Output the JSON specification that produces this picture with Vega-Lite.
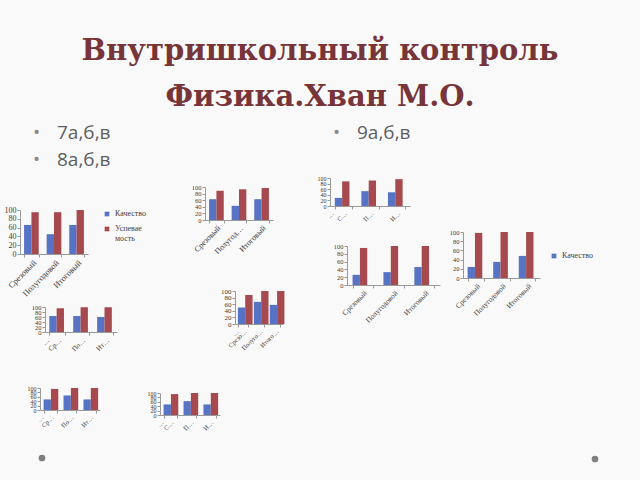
{
"$schema": "https://vega.github.io/schema/vega-lite/v6.json",
"background": "#f9f9f9",
"padding": {"left": 0, "top": 37, "right": 0, "bottom": 0},
"title": {"text": ["Внутришкольный контроль", "Физика.Хван М.О."], "font": "DejaVu Serif", "fontSize": 29, "fontWeight": "bold", "color": "#773539", "lineHeight": 46, "anchor": "middle", "frame": "bounds", "offset": 6},
"datasets": {
"one": [{"k": 1}],
"grades": [
{"chart":"A","cat":"Срезовый","series":"Качество","value":66},{"chart":"A","cat":"Срезовый","series":"Успеваемость","value":95},
{"chart":"A","cat":"Полугодовой","series":"Качество","value":45},{"chart":"A","cat":"Полугодовой","series":"Успеваемость","value":95},
{"chart":"A","cat":"Итоговый","series":"Качество","value":66},{"chart":"A","cat":"Итоговый","series":"Успеваемость","value":100},
{"chart":"B","cat":"Срезовый","series":"Качество","value":63},{"chart":"B","cat":"Срезовый","series":"Успеваемость","value":89},
{"chart":"B","cat":"Полугодовой","series":"Качество","value":43},{"chart":"B","cat":"Полугодовой","series":"Успеваемость","value":93},
{"chart":"B","cat":"Итоговый","series":"Качество","value":63},{"chart":"B","cat":"Итоговый","series":"Успеваемость","value":97},
{"chart":"C","cat":"Срезовый","series":"Качество","value":29},{"chart":"C","cat":"Срезовый","series":"Успеваемость","value":88},
{"chart":"C","cat":"Полугодовой","series":"Качество","value":53},{"chart":"C","cat":"Полугодовой","series":"Успеваемость","value":91},
{"chart":"C","cat":"Итоговый","series":"Качество","value":49},{"chart":"C","cat":"Итоговый","series":"Успеваемость","value":96},
{"chart":"D","cat":"Срезовый","series":"Качество","value":26},{"chart":"D","cat":"Срезовый","series":"Успеваемость","value":95},
{"chart":"D","cat":"Полугодовой","series":"Качество","value":33},{"chart":"D","cat":"Полугодовой","series":"Успеваемость","value":100},
{"chart":"D","cat":"Итоговый","series":"Качество","value":46},{"chart":"D","cat":"Итоговый","series":"Успеваемость","value":100},
{"chart":"E","cat":"Срезовый","series":"Качество","value":24},{"chart":"E","cat":"Срезовый","series":"Успеваемость","value":98},
{"chart":"E","cat":"Полугодовой","series":"Качество","value":35},{"chart":"E","cat":"Полугодовой","series":"Успеваемость","value":100},
{"chart":"E","cat":"Итоговый","series":"Качество","value":48},{"chart":"E","cat":"Итоговый","series":"Успеваемость","value":100},
{"chart":"F","cat":"Срезовый","series":"Качество","value":64},{"chart":"F","cat":"Срезовый","series":"Успеваемость","value":95},
{"chart":"F","cat":"Полугодовой","series":"Качество","value":64},{"chart":"F","cat":"Полугодовой","series":"Успеваемость","value":99},
{"chart":"F","cat":"Итоговый","series":"Качество","value":60},{"chart":"F","cat":"Итоговый","series":"Успеваемость","value":99},
{"chart":"G","cat":"Срезовый","series":"Качество","value":50},{"chart":"G","cat":"Срезовый","series":"Успеваемость","value":88},
{"chart":"G","cat":"Полугодовой","series":"Качество","value":67},{"chart":"G","cat":"Полугодовой","series":"Успеваемость","value":100},
{"chart":"G","cat":"Итоговый","series":"Качество","value":58},{"chart":"G","cat":"Итоговый","series":"Успеваемость","value":100},
{"chart":"H","cat":"Срезовый","series":"Качество","value":48},{"chart":"H","cat":"Срезовый","series":"Успеваемость","value":96},
{"chart":"H","cat":"Полугодовой","series":"Качество","value":66},{"chart":"H","cat":"Полугодовой","series":"Успеваемость","value":100},
{"chart":"H","cat":"Итоговый","series":"Качество","value":48},{"chart":"H","cat":"Итоговый","series":"Успеваемость","value":100},
{"chart":"I","cat":"Срезовый","series":"Качество","value":48},{"chart":"I","cat":"Срезовый","series":"Успеваемость","value":95},
{"chart":"I","cat":"Полугодовой","series":"Качество","value":63},{"chart":"I","cat":"Полугодовой","series":"Успеваемость","value":100},
{"chart":"I","cat":"Итоговый","series":"Качество","value":48},{"chart":"I","cat":"Итоговый","series":"Успеваемость","value":100}
]
},
"bounds": "flush",
"spacing": 0,
"resolve": {"scale": {"color": "independent"}, "legend": {"color": "independent"}},
"vconcat": [
{"columns": 2, "spacing": 0, "bounds": "flush", "concat": [
 {"width":33,"height":1,"data":{"name":"one"},"mark":{"type":"rect","opacity":0}},
 {"width":1,"height":1,"data":{"name":"one"},"mark":{"type":"rect","opacity":0}},
 {"width":1,"height":1,"data":{"name":"one"},"mark":{"type":"rect","opacity":0}},
 {"width":600,"height":54,
  "data":{"values":[{"side":"L","line":1,"t":"7а,б,в"},{"side":"L","line":2,"t":"8а,б,в"},{"side":"R","line":1,"t":"9а,б,в"}]},
  "encoding":{
   "x":{"field":"side","type":"nominal","bandPosition":0,"scale":{"type":"band","domain":["L","R"],"paddingInner":0,"paddingOuter":0},"axis":null},
   "y":{"field":"line","type":"ordinal","scale":{"type":"point","domain":[1,2],"padding":0.5},"axis":null}
  },
  "layer":[
   {"mark":{"type":"text","text":"•","align":"left","baseline":"middle","fontSize":19,"font":"Open Sans","color":"#8a8a8a"}},
   {"mark":{"type":"text","align":"left","baseline":"middle","dx":24,"fontSize":19,"font":"Open Sans","color":"#5f5f5f"},"encoding":{"text":{"field":"t"}}}
  ]}
]},
{"columns": 2, "spacing": 0, "bounds": "flush", "resolve": {"scale": {"color": "independent"}, "legend": {"color": "independent"}}, "concat": [
 {"width":20,"height":92,"data":{"name":"one"},"mark":{"type":"rect","opacity":0}},
 {"width":1,"height":1,"data":{"name":"one"},"mark":{"type":"rect","opacity":0}},
 {"width":1,"height":1,"data":{"name":"one"},"mark":{"type":"rect","opacity":0}},
 {"width":68,"height":44,"data":{"name":"grades"},"transform":[{"filter":"datum.chart == 'A'"}],"mark":{"type":"bar"},
  "encoding":{
   "x":{"field":"cat","type":"nominal","sort":["Срезовый","Полугодовой","Итоговый"],"scale":{"paddingInner":0.35,"paddingOuter":0.18},"axis":{"labelAngle":-45,"labelFontSize":8.5,"tickBand":"extent"},"title":null},
   "xOffset":{"field":"series","type":"nominal","sort":["Качество","Успеваемость"]},
   "y":{"field":"value","type":"quantitative","scale":{"domain":[0,100]},"axis":{"values":[0,20,40,60,80,100],"labelOverlap":false,"labelFontSize":8},"title":null},
   "color":{"field":"series","type":"nominal","scale":{"domain":["Качество","Успеваемость"],"range":["#5673c4","#a64a50"]},
    "legend":{"orient":"right","offset":15,"title":null,"symbolType":"square","symbolSize":22,"symbolStrokeWidth":0,"labelFont":"Liberation Serif","labelFontSize":8,"labelColor":"#404040","rowPadding":7,"labelExpr":"datum.label == 'Успеваемость' ? ['Успевае', 'мость'] : datum.label"}}
  }}
]},
{"columns": 2, "spacing": 0, "bounds": "flush", "concat": [
 {"width":205,"height":69,"data":{"name":"one"},"mark":{"type":"rect","opacity":0}},
 {"width":1,"height":1,"data":{"name":"one"},"mark":{"type":"rect","opacity":0}},
 {"width":1,"height":1,"data":{"name":"one"},"mark":{"type":"rect","opacity":0}},
 {"width":68,"height":33,"data":{"name":"grades"},"transform":[{"filter":"datum.chart == 'B'"}],"mark":{"type":"bar"},
  "encoding":{
   "x":{"field":"cat","type":"nominal","sort":["Срезовый","Полугодовой","Итоговый"],"scale":{"paddingInner":0.35,"paddingOuter":0.18},"axis":{"labelAngle":-45,"labelFontSize":8,"tickBand":"extent","labelExpr":"datum.label == 'Полугодовой' ? 'Полугод…' : datum.label"},"title":null},
   "xOffset":{"field":"series","type":"nominal","sort":["Качество","Успеваемость"]},
   "y":{"field":"value","type":"quantitative","scale":{"domain":[0,100]},"axis":{"values":[0,20,40,60,80,100],"labelOverlap":false,"labelFontSize":6.5},"title":null},
   "color":{"field":"series","type":"nominal","scale":{"domain":["Качество","Успеваемость"],"range":["#5673c4","#a64a50"]},"legend":null}
  }}
]},
{"columns": 2, "spacing": 0, "bounds": "flush", "concat": [
 {"width":330,"height":60,"data":{"name":"one"},"mark":{"type":"rect","opacity":0}},
 {"width":1,"height":1,"data":{"name":"one"},"mark":{"type":"rect","opacity":0}},
 {"width":1,"height":1,"data":{"name":"one"},"mark":{"type":"rect","opacity":0}},
 {"width":80,"height":28,"data":{"name":"grades"},"transform":[{"filter":"datum.chart == 'C'"}],"mark":{"type":"bar"},
  "encoding":{
   "x":{"field":"cat","type":"nominal","sort":["Срезовый","Полугодовой","Итоговый"],"scale":{"paddingInner":0.35,"paddingOuter":0.18},"axis":{"labelAngle":-45,"labelFontSize":6.5,"tickBand":"extent","labelExpr":"slice(datum.label, 0, 1) + '…'"},"title":null},
   "xOffset":{"field":"series","type":"nominal","sort":["Качество","Успеваемость"]},
   "y":{"field":"value","type":"quantitative","scale":{"domain":[0,100]},"axis":{"values":[0,20,40,60,80,100],"labelOverlap":false,"labelFontSize":6},"title":null},
   "color":{"field":"series","type":"nominal","scale":{"domain":["Качество","Успеваемость"],"range":["#5673c4","#a64a50"]},"legend":null}
  }}
]},
{"columns": 2, "spacing": 0, "bounds": "flush", "concat": [
 {"width":347,"height":128,"data":{"name":"one"},"mark":{"type":"rect","opacity":0}},
 {"width":1,"height":1,"data":{"name":"one"},"mark":{"type":"rect","opacity":0}},
 {"width":1,"height":1,"data":{"name":"one"},"mark":{"type":"rect","opacity":0}},
 {"width":93,"height":39,"data":{"name":"grades"},"transform":[{"filter":"datum.chart == 'D'"}],"mark":{"type":"bar"},
  "encoding":{
   "x":{"field":"cat","type":"nominal","sort":["Срезовый","Полугодовой","Итоговый"],"scale":{"paddingInner":0.35,"paddingOuter":0.18},"axis":{"labelAngle":-45,"labelFontSize":7.5,"tickBand":"extent"},"title":null},
   "xOffset":{"field":"series","type":"nominal","sort":["Качество","Успеваемость"]},
   "y":{"field":"value","type":"quantitative","scale":{"domain":[0,100]},"axis":{"values":[0,20,40,60,80,100],"labelOverlap":false,"labelFontSize":6.5},"title":null},
   "color":{"field":"series","type":"nominal","scale":{"domain":["Качество","Успеваемость"],"range":["#5673c4","#a64a50"]},"legend":null}
  }}
]},
{"columns": 2, "spacing": 0, "bounds": "flush", "resolve": {"scale": {"color": "independent"}, "legend": {"color": "independent"}}, "concat": [
 {"width":463,"height":114,"data":{"name":"one"},"mark":{"type":"rect","opacity":0}},
 {"width":1,"height":1,"data":{"name":"one"},"mark":{"type":"rect","opacity":0}},
 {"width":1,"height":1,"data":{"name":"one"},"mark":{"type":"rect","opacity":0}},
 {"width":77,"height":46,"data":{"name":"grades"},"transform":[{"filter":"datum.chart == 'E'"}],"mark":{"type":"bar"},
  "encoding":{
   "x":{"field":"cat","type":"nominal","sort":["Срезовый","Полугодовой","Итоговый"],"scale":{"paddingInner":0.35,"paddingOuter":0.18},"axis":{"labelAngle":-45,"labelFontSize":7.5,"tickBand":"extent"},"title":null},
   "xOffset":{"field":"series","type":"nominal","sort":["Качество","Успеваемость"]},
   "y":{"field":"value","type":"quantitative","scale":{"domain":[0,100]},"axis":{"values":[0,20,40,60,80,100],"labelOverlap":false,"labelFontSize":6.5},"title":null},
   "color":{"field":"series","type":"nominal","scale":{"domain":["Качество","Успеваемость"],"range":["#5673c4","#a64a50"]},
    "legend":{"orient":"right","offset":-10,"padding":20,"values":["Качество"],"title":null,"symbolType":"square","symbolSize":22,"symbolStrokeWidth":0,"labelFont":"Liberation Serif","labelFontSize":8,"labelColor":"#404040"}}
  }}
]},
{"columns": 2, "spacing": 0, "bounds": "flush", "concat": [
 {"width":45,"height":189,"data":{"name":"one"},"mark":{"type":"rect","opacity":0}},
 {"width":1,"height":1,"data":{"name":"one"},"mark":{"type":"rect","opacity":0}},
 {"width":1,"height":1,"data":{"name":"one"},"mark":{"type":"rect","opacity":0}},
 {"width":72,"height":25,"data":{"name":"grades"},"transform":[{"filter":"datum.chart == 'F'"}],"mark":{"type":"bar"},
  "encoding":{
   "x":{"field":"cat","type":"nominal","sort":["Срезовый","Полугодовой","Итоговый"],"scale":{"paddingInner":0.35,"paddingOuter":0.18},"axis":{"labelAngle":-45,"labelFontSize":7,"tickBand":"extent","labelExpr":"slice(datum.label, 0, 2) + '…'"},"title":null},
   "xOffset":{"field":"series","type":"nominal","sort":["Качество","Успеваемость"]},
   "y":{"field":"value","type":"quantitative","scale":{"domain":[0,100]},"axis":{"values":[0,20,40,60,80,100],"labelOverlap":false,"labelFontSize":6.5},"title":null},
   "color":{"field":"series","type":"nominal","scale":{"domain":["Качество","Успеваемость"],"range":["#5673c4","#a64a50"]},"legend":null}
  }}
]},
{"columns": 2, "spacing": 0, "bounds": "flush", "concat": [
 {"width":235,"height":173,"data":{"name":"one"},"mark":{"type":"rect","opacity":0}},
 {"width":1,"height":1,"data":{"name":"one"},"mark":{"type":"rect","opacity":0}},
 {"width":1,"height":1,"data":{"name":"one"},"mark":{"type":"rect","opacity":0}},
 {"width":48,"height":33,"data":{"name":"grades"},"transform":[{"filter":"datum.chart == 'G'"}],"mark":{"type":"bar"},
  "encoding":{
   "x":{"field":"cat","type":"nominal","sort":["Срезовый","Полугодовой","Итоговый"],"scale":{"paddingInner":0.35,"paddingOuter":0.18},"axis":{"labelAngle":-45,"labelFontSize":6.5,"tickBand":"extent","labelExpr":"datum.label == 'Полугодовой' ? 'Полуго…' : slice(datum.label, 0, 5) + '…'"},"title":null},
   "xOffset":{"field":"series","type":"nominal","sort":["Качество","Успеваемость"]},
   "y":{"field":"value","type":"quantitative","scale":{"domain":[0,100]},"axis":{"values":[0,20,40,60,80,100],"labelOverlap":false,"labelFontSize":7},"title":null},
   "color":{"field":"series","type":"nominal","scale":{"domain":["Качество","Успеваемость"],"range":["#5673c4","#a64a50"]},"legend":null}
  }}
]},
{"columns": 2, "spacing": 0, "bounds": "flush", "concat": [
 {"width":40,"height":270,"data":{"name":"one"},"mark":{"type":"rect","opacity":0}},
 {"width":1,"height":1,"data":{"name":"one"},"mark":{"type":"rect","opacity":0}},
 {"width":1,"height":1,"data":{"name":"one"},"mark":{"type":"rect","opacity":0}},
 {"width":60,"height":22,"data":{"name":"grades"},"transform":[{"filter":"datum.chart == 'H'"}],"mark":{"type":"bar"},
  "encoding":{
   "x":{"field":"cat","type":"nominal","sort":["Срезовый","Полугодовой","Итоговый"],"scale":{"paddingInner":0.35,"paddingOuter":0.18},"axis":{"labelAngle":-45,"labelFontSize":6.5,"tickBand":"extent","labelExpr":"slice(datum.label, 0, 2) + '…'"},"title":null},
   "xOffset":{"field":"series","type":"nominal","sort":["Качество","Успеваемость"]},
   "y":{"field":"value","type":"quantitative","scale":{"domain":[0,100]},"axis":{"values":[0,20,40,60,80,100],"labelOverlap":false,"labelFontSize":6},"title":null},
   "color":{"field":"series","type":"nominal","scale":{"domain":["Качество","Успеваемость"],"range":["#5673c4","#a64a50"]},"legend":null}
  }}
]},
{"columns": 2, "spacing": 0, "bounds": "flush", "concat": [
 {"width":160,"height":275,"data":{"name":"one"},"mark":{"type":"rect","opacity":0}},
 {"width":1,"height":1,"data":{"name":"one"},"mark":{"type":"rect","opacity":0}},
 {"width":1,"height":1,"data":{"name":"one"},"mark":{"type":"rect","opacity":0}},
 {"width":60,"height":22,"data":{"name":"grades"},"transform":[{"filter":"datum.chart == 'I'"}],"mark":{"type":"bar"},
  "encoding":{
   "x":{"field":"cat","type":"nominal","sort":["Срезовый","Полугодовой","Итоговый"],"scale":{"paddingInner":0.35,"paddingOuter":0.18},"axis":{"labelAngle":-45,"labelFontSize":6.5,"tickBand":"extent","labelExpr":"slice(datum.label, 0, 1) + '…'"},"title":null},
   "xOffset":{"field":"series","type":"nominal","sort":["Качество","Успеваемость"]},
   "y":{"field":"value","type":"quantitative","scale":{"domain":[0,100]},"axis":{"values":[0,20,40,60,80,100],"labelOverlap":false,"labelFontSize":6},"title":null},
   "color":{"field":"series","type":"nominal","scale":{"domain":["Качество","Успеваемость"],"range":["#5673c4","#a64a50"]},"legend":null}
  }}
]},
{"columns": 2, "spacing": 0, "bounds": "flush", "concat": [
 {"width":38,"height":336,"data":{"name":"one"},"mark":{"type":"rect","opacity":0}},
 {"width":1,"height":1,"data":{"name":"one"},"mark":{"type":"rect","opacity":0}},
 {"width":1,"height":1,"data":{"name":"one"},"mark":{"type":"rect","opacity":0}},
 {"width":8,"height":8,"data":{"name":"one"},"mark":{"type":"point","filled":true,"size":45,"color":"#7f7f7f","opacity":1}}
]},
{"columns": 2, "spacing": 0, "bounds": "flush", "concat": [
 {"width":591,"height":337,"data":{"name":"one"},"mark":{"type":"rect","opacity":0}},
 {"width":1,"height":1,"data":{"name":"one"},"mark":{"type":"rect","opacity":0}},
 {"width":1,"height":1,"data":{"name":"one"},"mark":{"type":"rect","opacity":0}},
 {"width":8,"height":8,"data":{"name":"one"},"mark":{"type":"point","filled":true,"size":45,"color":"#7f7f7f","opacity":1}}
]},
{"width":640,"height":363,"data":{"name":"one"},"mark":{"type":"rect","opacity":0}}
],
"config": {
 "view": {"stroke": null},
 "title": {"font": "DejaVu Serif"},
 "axis": {"grid": false, "domainColor": "#9a9a9a", "tickColor": "#9a9a9a", "labelFont": "Liberation Serif", "labelColor": "#3c3c3c", "tickSize": 3, "labelPadding": 1, "domainWidth": 1},
 "bar": {"stroke": null}
}
}
